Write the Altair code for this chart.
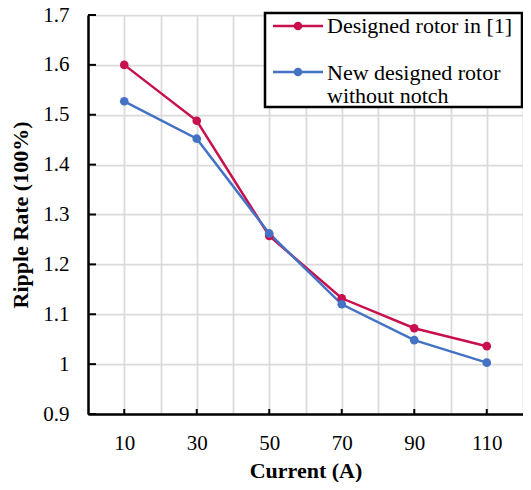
import altair as alt
import pandas as pd

currents = [10, 30, 50, 70, 90, 110]
ripple_ref = [1.600, 1.488, 1.257, 1.132, 1.072, 1.036]
ripple_new = [1.527, 1.452, 1.262, 1.120, 1.048, 1.003]
series_names = ["Designed rotor in [1]", "New designed rotor without notch"]
series_colors = ["#C8104E", "#4472C4"]
legend_lines = [["Designed rotor in [1]"], ["New designed rotor", "without notch"]]
x_grid = [0, 10, 20, 30, 40, 50, 60, 70, 80, 90, 100, 110, 120]
x_ticks = [10, 30, 50, 70, 90, 110]
y_ticks = [0.9, 1.0, 1.1, 1.2, 1.3, 1.4, 1.5, 1.6, 1.7]

FONT = "Liberation Serif"
W, H = 435, 399
GRID = "#DADADA"

df = pd.DataFrame({
    "current": currents + currents,
    "ripple": ripple_ref + ripple_new,
    "series": [series_names[0]] * len(currents) + [series_names[1]] * len(currents),
})

x_enc = alt.X(
    "current:Q",
    scale=alt.Scale(domain=[0, 120], nice=False),
    axis=alt.Axis(
        values=x_grid, labelExpr="datum.value % 20 == 10 ? datum.label : ''",
        grid=True, gridColor=GRID, gridWidth=1.75, ticks=False, tickSize=0,
        domainColor="black", domainWidth=2.5,
        labelFont=FONT, labelFontSize=21, labelColor="black", labelPadding=18,
        title="Current (A)", titleFont=FONT, titleFontSize=22, titleFontWeight="bold",
        titleColor="black", titlePadding=7,
    ),
)
y_enc = alt.Y(
    "ripple:Q",
    scale=alt.Scale(domain=[0.9, 1.7], nice=False, zero=False),
    axis=alt.Axis(
        values=y_ticks, format=".1~f",
        grid=True, gridColor=GRID, gridWidth=1.75, ticks=False, tickSize=0,
        domainColor="black", domainWidth=2.5,
        labelFont=FONT, labelFontSize=21, labelColor="black", labelPadding=19,
        title="Ripple Rate (100%)", titleFont=FONT, titleFontSize=22, titleFontWeight="bold",
        titleColor="black", titlePadding=10,
    ),
)
color_enc = alt.Color("series:N", scale=alt.Scale(domain=series_names, range=series_colors), legend=None)

lines = alt.Chart(df).mark_line(strokeWidth=2.5).encode(x=x_enc, y=y_enc, color=color_enc)
points = alt.Chart(df).mark_circle(size=75, opacity=1).encode(x=x_enc, y=y_enc, color=color_enc)

xt = alt.Chart(pd.DataFrame({"current": x_ticks})).mark_rule(color="black", strokeWidth=2).encode(
    x=x_enc, y=alt.value(H), y2=alt.value(H - 5))
yt = alt.Chart(pd.DataFrame({"ripple": y_ticks})).mark_rule(color="black", strokeWidth=2).encode(
    y=y_enc, x=alt.value(0), x2=alt.value(8))

one = pd.DataFrame({"a": [0]})
box = alt.Chart(one).mark_rect(fill="white", stroke="black", strokeWidth=2.5).encode(
    x=alt.value(177), x2=alt.value(434), y=alt.value(-2), y2=alt.value(92))

legend_layers = []
symbol_y = [11, 57]
text_y = [18, 65]
for name, col, lines_txt, sy, ty in zip(series_names, series_colors, legend_lines, symbol_y, text_y):
    legend_layers.append(alt.Chart(one).mark_rule(color=col, strokeWidth=2.5).encode(
        x=alt.value(185), x2=alt.value(235), y=alt.value(sy)))
    legend_layers.append(alt.Chart(one).mark_circle(color=col, size=75, opacity=1).encode(
        x=alt.value(210), y=alt.value(sy)))
    for i, t in enumerate(lines_txt):
        legend_layers.append(alt.Chart(pd.DataFrame({"t": [t]})).mark_text(
            font=FONT, fontSize=22, color="black", align="left", baseline="alphabetic").encode(
            x=alt.value(239), y=alt.value(ty + 23 * i), text="t:N"))

chart = alt.layer(lines, points, xt, yt, box, *legend_layers).properties(
    width=W, height=H,
    autosize=alt.AutoSizeParams(type="none"),
    padding={"left": 80, "top": 7, "right": 0, "bottom": 68},
).configure_view(stroke=None)

chart.save("out.html", embed_options={"renderer": "svg", "actions": False})
